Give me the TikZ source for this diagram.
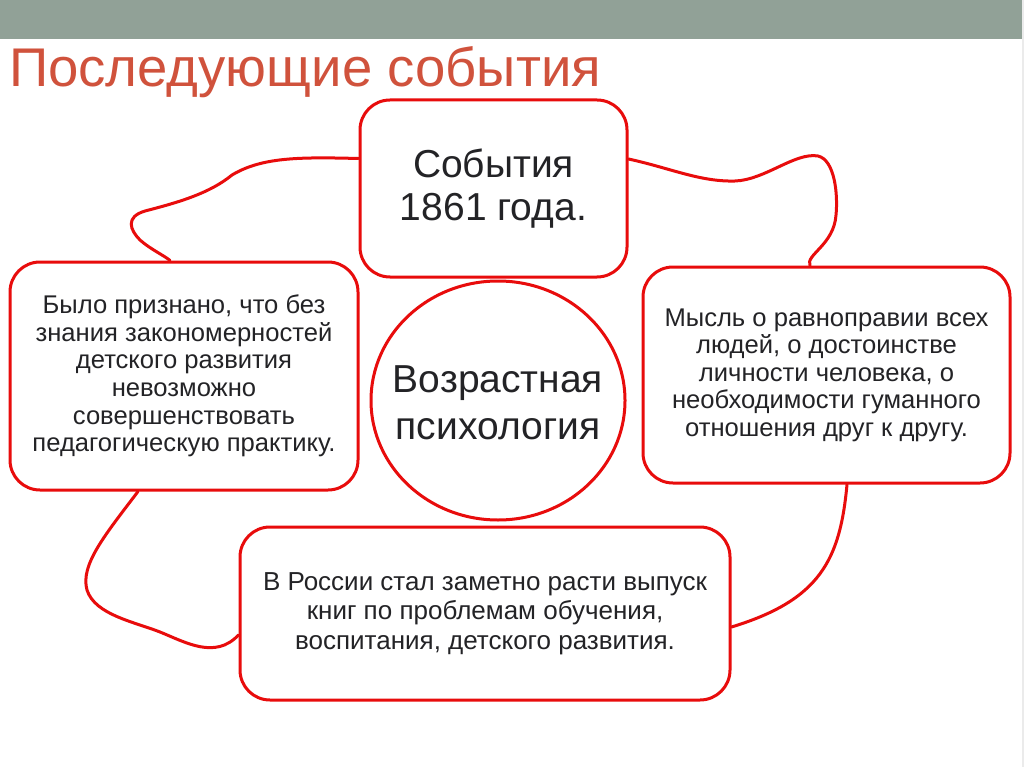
\documentclass[tikz,border=0pt]{standalone}
\usepackage{fontspec}
\setmainfont{Liberation Sans}
\usetikzlibrary{shapes.geometric}
\definecolor{bargray}{RGB}{145,161,151}
\definecolor{titlered}{RGB}{208,82,60}
\definecolor{linered}{RGB}{232,12,12}
\definecolor{txt}{RGB}{35,35,38}
\pgfdeclarelayer{bg}
\pgfdeclarelayer{links}
\pgfsetlayers{bg,links,main}
\tikzset{
  rbox/.style={draw=linered, line width=3pt, fill=white, rounded corners=30pt,
    inner sep=0pt, align=center, text=txt},
  link/.style={draw=linered, line width=3pt, line cap=round},
}
\begin{document}
\begin{tikzpicture}[x=1pt,y=-1pt]
\useasboundingbox (0,0) rectangle (1024,767);
\begin{pgfonlayer}{bg}
\fill[white] (0,0) rectangle (1024,767);
\fill[bargray] (0,0) rectangle (1024,39);
\fill[black!8] (1022,0) rectangle (1024,767);
\end{pgfonlayer}
\node[anchor=base west, inner sep=0pt, text=titlered, font=\fontsize{54.5}{60}\selectfont] (title) at (9,87) {Последующие события};

\path (493.5,188.5) node[rbox, minimum width=267pt, minimum height=177pt, font=\fontsize{39}{43}\selectfont] (top) {События\\1861 года.};
\path (184,376) node[rbox, minimum width=348pt, minimum height=228pt, font=\fontsize{25.6}{27.6}\selectfont] (left) {Было признано, что без\\знания закономерностей\\детского развития\\невозможно\\совершенствовать\\педагогическую практику.};
\path (826.5,375) node[rbox, minimum width=367pt, minimum height=216pt, font=\fontsize{25.6}{27.5}\selectfont] (right) {Мысль о равноправии всех\\людей, о достоинстве\\личности человека, о\\необходимости гуманного\\отношения друг к другу.};
\path (485,613.5) node[rbox, minimum width=490pt, minimum height=173pt, font=\fontsize{26}{29.5}\selectfont] (bottom) {В России стал заметно расти выпуск\\книг по проблемам обучения,\\воспитания, детского развития.};
\path (498,400.5) node[ellipse, draw=linered, line width=3pt, fill=white, inner sep=0pt, minimum width=254pt, minimum height=239pt] (centre) {};
\node[inner sep=0pt, align=center, text=txt, font=\fontsize{39}{47}\selectfont] (centretext) at ([yshift=-2pt]centre.center) {Возрастная\\психология};

\begin{pgfonlayer}{links}
\draw[link] ([yshift=30pt]top.west) .. controls (300,157) and (262,157) .. (232,175)
  .. controls (210,193) and (180,202) .. (145,211)
  .. controls (125,217) and (130,230) .. (140,240)
  .. controls (150,249) and (165,256) .. ([xshift=-14pt]left.north);
\draw[link] ([yshift=29.5pt]top.east) .. controls (670,168) and (700,182) .. (735,181)
  .. controls (765,180) and (795,152) .. (818,156)
  .. controls (835,160) and (838,195) .. (836,215)
  .. controls (834,245) and (805,255) .. ([xshift=-16.5pt]right.north);
\draw[link] ([xshift=20.5pt]right.south) .. controls (840,560) and (820,600) .. ([yshift=-13.5pt]bottom.east);
\draw[link] ([xshift=-46pt]left.south) .. controls (105,535) and (80,565) .. (87,590)
  .. controls (95,615) and (135,622) .. (160,632)
  .. controls (185,642) and (215,660) .. ([yshift=-21.5pt]bottom.west);
\end{pgfonlayer}
\end{tikzpicture}
\end{document}
